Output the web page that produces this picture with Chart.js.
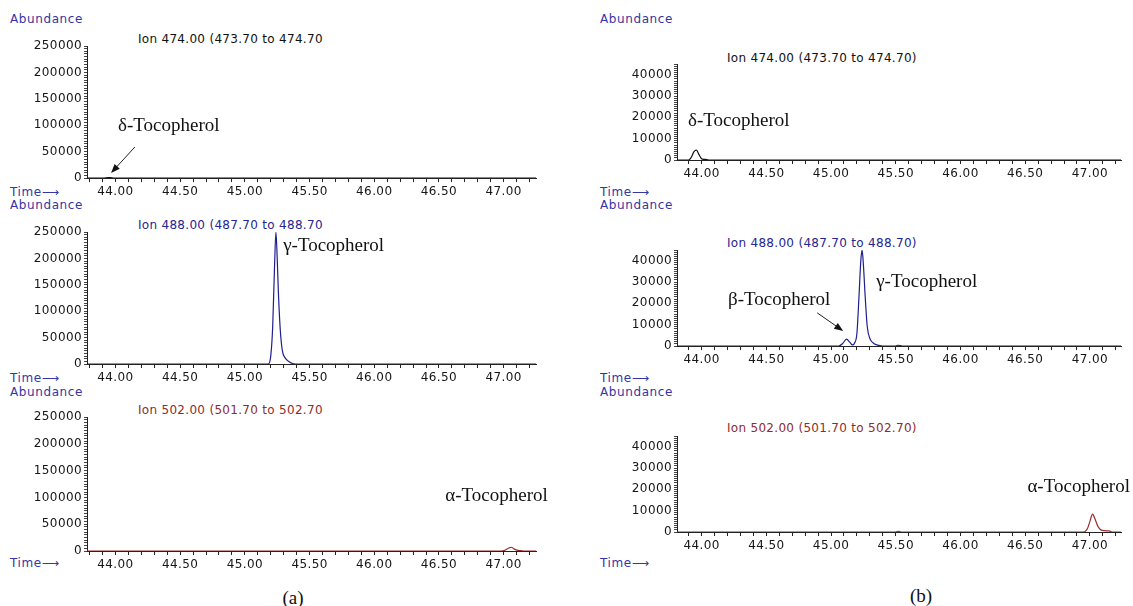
<!DOCTYPE html>
<html>
<head>
<meta charset="utf-8">
<script src="https://cdn.jsdelivr.net/npm/chart.js@4"></script>
<style>
  body { margin: 0; background: #fff; width: 1133px; height: 606px; position: relative; overflow: hidden; font-family: "DejaVu Sans", sans-serif; }
  canvas { position: absolute; }
  .t { position: absolute; font-size: 12px; line-height: 1; white-space: nowrap; transform: translateY(-50%); }
  .ab, .tm { color: #3535a5; letter-spacing: 0.6px; }
  .ion { letter-spacing: 0.3px; }
  .cap { position: absolute; font-family: "Liberation Serif", serif; font-size: 19px; line-height: 1; transform: translate(-50%, -50%); color: #111; }
</style>
</head>
<body>
<div class="t ab" style="left:10px;top:19px">Abundance</div>
<div class="t ab" style="left:10px;top:205px">Abundance</div>
<div class="t ab" style="left:10px;top:392px">Abundance</div>
<div class="t tm" style="left:10px;top:192px">Time⟶</div>
<div class="t tm" style="left:10px;top:378px">Time⟶</div>
<div class="t tm" style="left:10px;top:563px">Time⟶</div>
<div class="t ab" style="left:600px;top:19px">Abundance</div>
<div class="t ab" style="left:600px;top:205px">Abundance</div>
<div class="t ab" style="left:600px;top:392px">Abundance</div>
<div class="t tm" style="left:600px;top:192px">Time⟶</div>
<div class="t tm" style="left:600px;top:378px">Time⟶</div>
<div class="t tm" style="left:600px;top:563px">Time⟶</div>
<div class="t ion" style="left:138px;top:39px;color:#111">Ion 474.00 (473.70 to 474.70</div>
<div class="t ion" style="left:138px;top:225px;color:#25258f">Ion 488.00 (487.70 to 488.70</div>
<div class="t ion" style="left:138px;top:410px;color:#8e2c2c">Ion 502.00 (501.70 to 502.70</div>
<div class="t ion" style="left:727px;top:58px;color:#111">Ion 474.00 (473.70 to 474.70)</div>
<div class="t ion" style="left:727px;top:243px;color:#25258f">Ion 488.00 (487.70 to 488.70)</div>
<div class="t ion" style="left:727px;top:428px;color:#8e2c2c">Ion 502.00 (501.70 to 502.70)</div>
<div class="cap" style="left:293px;top:597px">(a)</div>
<div class="cap" style="left:921px;top:595px">(b)</div>

<script>
// (a) retention time (min) and abundance
const timeA474 = [43.78, 43.90, 43.93, 43.95, 43.97, 44.00, 47.25];
const abundA474 = [0, 0, 400, 900, 400, 0, 0];
const timeA488 = [43.78, 45.18, 45.20, 45.215, 45.23, 45.24, 45.25, 45.26, 45.275, 45.29, 45.31, 45.345, 45.39, 47.25];
const abundA488 = [0, 0, 15000, 70000, 190000, 250000, 200000, 130000, 60000, 25000, 12000, 4000, 0, 0];
const timeA502 = [43.78, 46.98, 47.01, 47.04, 47.06, 47.08, 47.11, 47.14, 47.17, 47.25];
const abundA502 = [0, 0, 1500, 5500, 7000, 4000, 1200, 400, 0, 0];

// (b)
const timeB474 = [43.81, 43.90, 43.92, 43.94, 43.96, 43.98, 44.00, 44.02, 44.04, 44.06, 47.24];
const abundB474 = [0, 0, 1200, 3800, 4600, 2500, 600, 300, 200, 0, 0];
const timeB488 = [43.81, 45.06, 45.09, 45.12, 45.145, 45.165, 45.18, 45.20, 45.215, 45.23, 45.24, 45.25, 45.265, 45.28, 45.30, 45.33, 45.37, 45.40, 45.50, 45.52, 45.55, 47.24];
const abundB488 = [0, 0, 1200, 3200, 1800, 500, 1200, 6000, 22000, 40000, 45000, 38000, 22000, 9000, 3500, 1200, 300, 0, 0, 350, 0, 0];
const timeB502 = [43.81, 45.50, 45.52, 45.54, 46.95, 46.98, 47.00, 47.02, 47.04, 47.06, 47.08, 47.11, 47.15, 47.17, 47.24];
const abundB502 = [0, 0, 350, 0, 0, 1500, 5000, 8400, 6000, 2800, 1200, 600, 500, 0, 0];

const c474 = '#111111', c488 = '#1f1f8f', c502 = '#992a2a';

Chart.defaults.font.family = '"DejaVu Sans", sans-serif';
Chart.defaults.font.size = 12;
Chart.defaults.color = '#161616';

// compound names + arrows, placed in data units
const notesPlugin = {
  id: 'notes',
  beforeDraw(chart) { chart.ctx.letterSpacing = '0.4px'; },
  afterDatasetsDraw(chart, args, opts) {
    const { ctx, scales: { x, y } } = chart;
    ctx.save();
    ctx.letterSpacing = '0px';
    ctx.fillStyle = '#111';
    ctx.strokeStyle = '#222';
    ctx.font = '19px "Liberation Serif", serif';
    ctx.textBaseline = 'middle';
    (opts.labels || []).forEach(n => ctx.fillText(n.text, x.getPixelForValue(n.x), y.getPixelForValue(n.y)));
    (opts.arrows || []).forEach(a => {
      const x1 = x.getPixelForValue(a.x1), y1 = y.getPixelForValue(a.y1);
      const x2 = x.getPixelForValue(a.x2), y2 = y.getPixelForValue(a.y2);
      const ang = Math.atan2(y2 - y1, x2 - x1), c = Math.cos(ang), s = Math.sin(ang);
      ctx.lineWidth = 1;
      ctx.beginPath();
      ctx.moveTo(x1, y1);
      ctx.lineTo(x2 - 6 * c, y2 - 6 * s);
      ctx.stroke();
      ctx.beginPath();
      ctx.moveTo(x2, y2);
      ctx.lineTo(x2 - 9 * c + 3.5 * s, y2 - 9 * s - 3.5 * c);
      ctx.lineTo(x2 - 9 * c - 3.5 * s, y2 - 9 * s + 3.5 * c);
      ctx.closePath();
      ctx.fill();
    });
    ctx.restore();
  }
};

const panels = [
  { left: 0, top: 36, w: 565, h: 164, padR: 29, xMin: 43.78, xMax: 47.25, yMax: 250000, yStep: 5000, yEvery: 50000,
    time: timeA474, abund: abundA474, color: c474,
    labels: [{ x: 44.02, y: 98500, text: 'δ-Tocopherol' }],
    arrows: [{ x1: 44.15, y1: 58700, x2: 43.966, y2: 9500 }] },
  { left: 0, top: 222, w: 565, h: 164, padR: 29, xMin: 43.78, xMax: 47.25, yMax: 250000, yStep: 5000, yEvery: 50000,
    time: timeA488, abund: abundA488, color: c488,
    labels: [{ x: 45.296, y: 223500, text: 'γ-Tocopherol' }], arrows: [] },
  { left: 0, top: 407, w: 565, h: 166, padR: 29, xMin: 43.78, xMax: 47.25, yMax: 250000, yStep: 5000, yEvery: 50000,
    time: timeA502, abund: abundA502, color: c502,
    labels: [{ x: 46.549, y: 102000, text: 'α-Tocopherol' }], arrows: [] },
  { left: 590, top: 54, w: 543, h: 128, padR: 12, xMin: 43.81, xMax: 47.24, yMax: 45000, yStep: 1000, yEvery: 10000,
    time: timeB474, abund: abundB474, color: c474,
    labels: [{ x: 43.895, y: 18100, text: 'δ-Tocopherol' }], arrows: [] },
  { left: 590, top: 240, w: 543, h: 128, padR: 12, xMin: 43.81, xMax: 47.24, yMax: 45000, yStep: 1000, yEvery: 10000,
    time: timeB488, abund: abundB488, color: c488,
    labels: [{ x: 44.204, y: 21650, text: 'β-Tocopherol' }, { x: 45.349, y: 30100, text: 'γ-Tocopherol' }],
    arrows: [{ x1: 44.893, y1: 15530, x2: 45.094, y2: 7060 }] },
  { left: 590, top: 426, w: 543, h: 128, padR: 12, xMin: 43.81, xMax: 47.24, yMax: 45000, yStep: 1000, yEvery: 10000,
    time: timeB502, abund: abundB502, color: c502,
    labels: [{ x: 46.517, y: 21000, text: 'α-Tocopherol' }], arrows: [] }
];

panels.forEach(p => {
  const cv = document.createElement('canvas');
  cv.width = p.w; cv.height = p.h;
  cv.style.left = p.left + 'px';
  cv.style.top = p.top + 'px';
  document.body.appendChild(cv);

  new Chart(cv.getContext('2d'), {
    type: 'line',
    data: {
      datasets: [{
        data: p.time.map((t, i) => ({ x: t, y: p.abund[i] })),
        borderColor: p.color,
        borderWidth: 1.2,
        pointRadius: 0,
        cubicInterpolationMode: 'monotone',
        fill: false
      }]
    },
    options: {
      responsive: false,
      animation: false,
      layout: { padding: { top: 10, right: p.padR, left: 0, bottom: 0 } },
      scales: {
        x: {
          type: 'linear', min: p.xMin, max: p.xMax,
          afterFit: s => { s.height = 22; },
          grid: { drawOnChartArea: false, tickLength: 4, tickColor: '#222' },
          border: { color: '#222', width: 1 },
          ticks: {
            stepSize: 0.1, includeBounds: false, autoSkip: false, maxTicksLimit: 100,
            maxRotation: 0, minRotation: 0, padding: 3,
            callback: v => Math.abs(Math.round(v * 100) % 50) === 0 ? v.toFixed(2) : ''
          }
        },
        y: {
          min: 0, max: p.yMax,
          afterFit: s => { s.width = 87; },
          grid: { drawOnChartArea: false, tickLength: 3, tickColor: '#444' },
          border: { color: '#222', width: 1 },
          ticks: {
            stepSize: p.yStep, autoSkip: false, maxTicksLimit: 100, padding: 2,
            callback: v => v % p.yEvery === 0 ? v : ''
          }
        }
      },
      plugins: {
        legend: { display: false },
        tooltip: { enabled: false },
        notes: { labels: p.labels, arrows: p.arrows }
      }
    },
    plugins: [notesPlugin]
  });
});
</script>
</body>
</html>
